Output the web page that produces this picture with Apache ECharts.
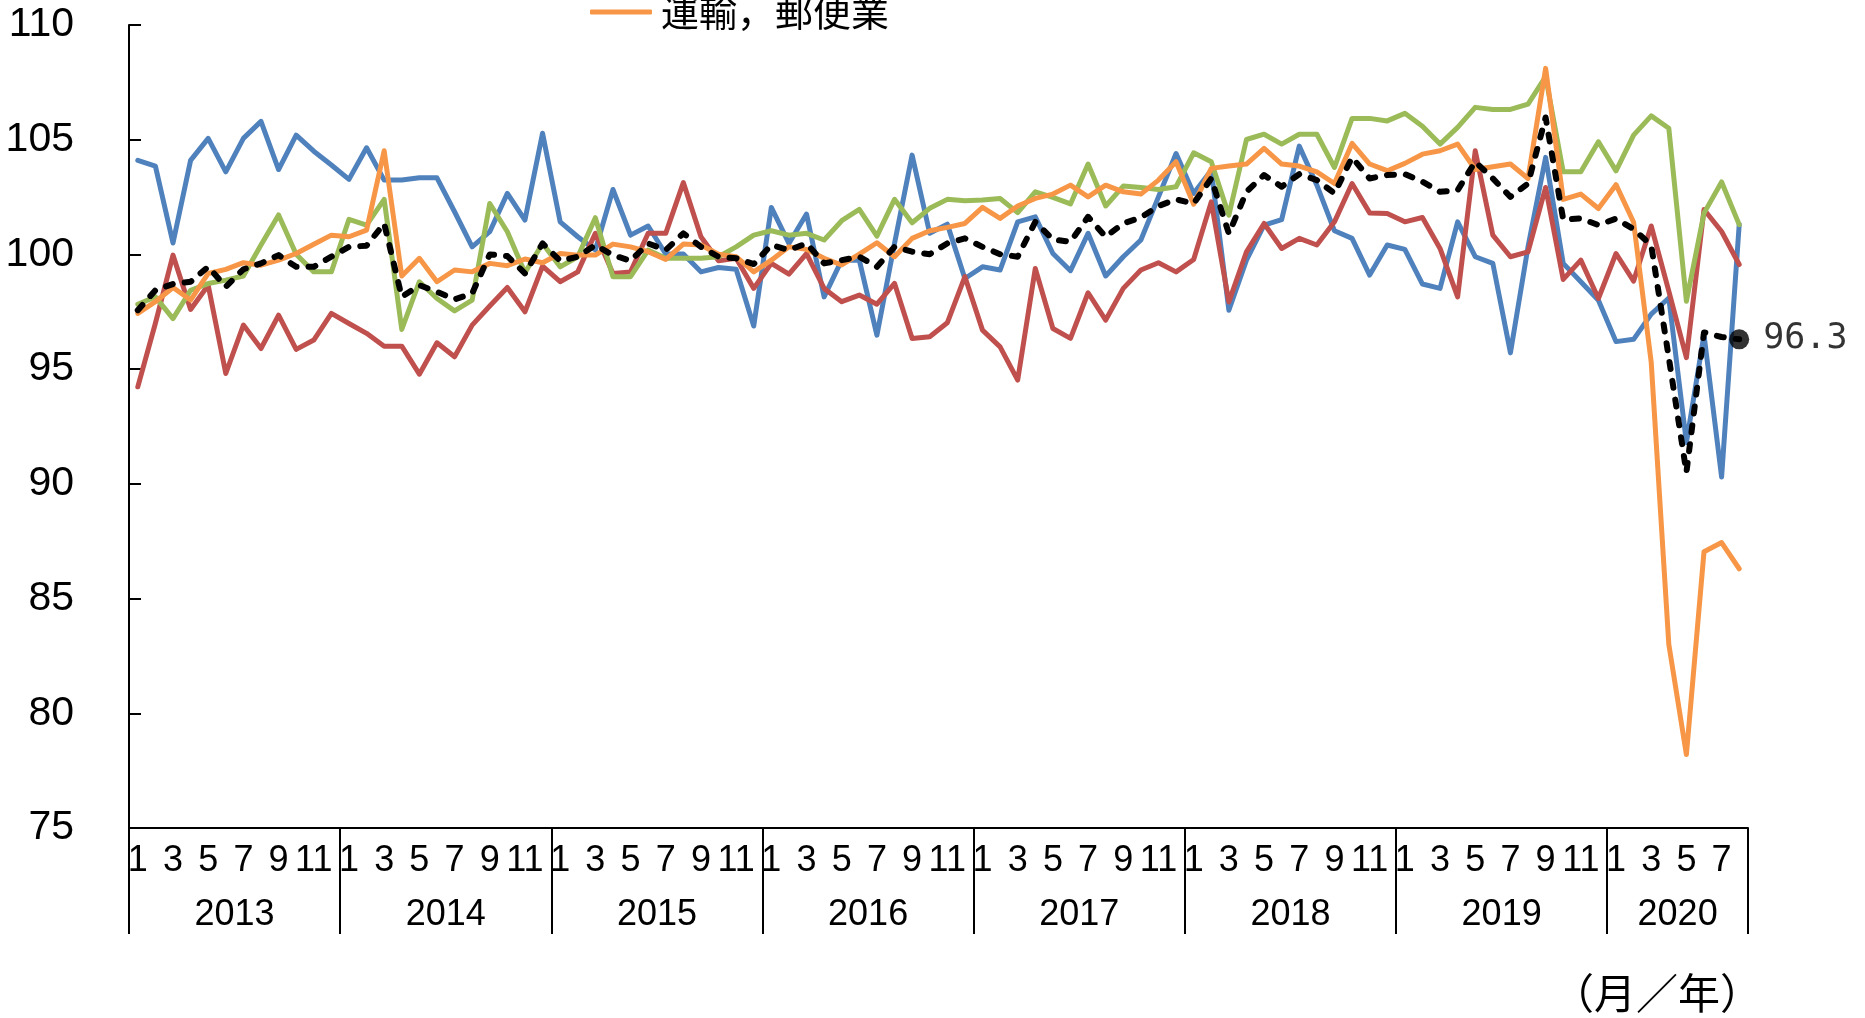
<!DOCTYPE html>
<html>
<head>
<meta charset="utf-8">
<script src="https://cdn.jsdelivr.net/npm/echarts@6/dist/echarts.min.js"></script>
<style>
html,body{margin:0;padding:0;background:#fff;}
#chart{width:1865px;height:1018px;}
</style>
</head>
<body>
<div id="chart"></div>
<script>
// ---- Data ----
const yearLabels = ['2013','2014','2015','2016','2017','2018','2019','2020'];
const monthsInYear = [12,12,12,12,12,12,12,8];
const yTicks = {min: 75, max: 110, step: 5};
const lastLabelText = '96.3';

const blue = [
 104.1,103.85,100.5,104.1,105.06,103.6,105.06,105.8,103.7,105.2,104.5,103.9,
 103.27,104.65,103.24,103.24,103.34,103.34,101.86,100.33,100.99,102.66,101.5,105.28,
 101.42,100.77,100.19,102.83,100.84,101.24,100.02,100.02,99.24,99.43,99.35,96.88,
 102.05,100.48,101.76,98.15,99.75,99.75,96.48,100.48,104.33,100.92,101.32,98.95,
 99.46,99.32,101.42,101.64,100.04,99.29,100.92,99.06,99.9,100.63,102.51,104.4,
 102.66,103.67,97.57,99.75,101.28,101.52,104.72,103.02,101.03,100.7,99.1,100.41,
 100.22,98.71,98.52,101.42,99.9,99.61,95.71,100.33,104.23,99.61,98.81,98.0,
 96.2,96.3,97.4,98.1,91.8,96.5,90.3,101.3
];
const red = [
 94.23,97.0,99.97,97.6,98.66,94.81,96.92,95.9,97.35,95.86,96.27,97.43,
 96.99,96.56,96.0,96.0,94.78,96.15,95.54,96.92,97.75,98.56,97.5,99.49,
 98.81,99.24,100.92,99.17,99.24,100.92,100.92,103.13,100.77,99.72,99.83,98.52,
 99.61,99.14,100.04,98.52,97.94,98.23,97.83,98.74,96.34,96.41,97.02,99.03,
 96.7,95.97,94.52,99.39,96.77,96.34,98.33,97.14,98.52,99.32,99.64,99.24,
 99.78,102.29,97.93,100.11,101.35,100.26,100.7,100.41,101.42,103.09,101.81,101.78,
 101.42,101.61,100.26,98.15,104.52,100.84,99.9,100.11,102.92,98.91,99.75,98.08,
 100.04,98.84,101.24,98.4,95.5,101.96,101.0,99.56
];
const green = [
 97.83,98.15,97.2,98.44,98.73,98.88,99.06,100.41,101.72,100.01,99.24,99.24,
 101.53,101.28,102.4,96.73,98.81,98.08,97.54,98.01,102.22,100.99,99.2,100.48,
 99.46,99.9,101.6,99.03,99.03,100.19,99.83,99.83,99.83,99.9,100.33,100.84,
 101.03,100.84,100.92,100.63,101.47,101.96,100.8,102.4,101.38,102.01,102.4,102.34,
 102.37,102.44,101.82,102.73,102.49,102.2,103.94,102.11,102.98,102.92,102.83,102.95,
 104.43,104.04,101.71,105.01,105.24,104.81,105.24,105.24,103.79,105.93,105.93,105.82,
 106.15,105.59,104.81,105.54,106.41,106.32,106.32,106.55,107.75,103.6,103.6,104.91,
 103.64,105.2,106.04,105.5,97.96,101.8,103.16,101.3
];
const orange = [
 97.43,97.94,98.56,98.01,99.17,99.35,99.64,99.53,99.75,100.04,100.44,100.84,
 100.77,101.06,104.52,99.06,99.83,98.81,99.32,99.24,99.61,99.51,99.8,99.64,
 100.04,99.97,99.97,100.45,100.33,100.12,99.78,100.45,100.41,100.01,99.9,99.24,
 99.75,100.33,100.22,99.83,99.54,100.01,100.51,99.9,100.7,101.03,101.18,101.35,
 102.05,101.57,102.11,102.44,102.63,103.02,102.51,103.02,102.73,102.63,103.24,104.04,
 102.19,103.75,103.85,103.94,104.62,103.94,103.85,103.6,103.09,104.84,103.94,103.65,
 103.97,104.37,104.52,104.81,103.7,103.82,103.94,103.31,108.11,102.4,102.63,102.0,
 103.04,101.4,95.3,83.0,78.2,87.04,87.44,86.3
];
const total = [
 97.57,98.44,98.71,98.81,99.46,98.59,99.35,99.61,99.97,99.46,99.46,99.9,
 100.33,100.38,101.35,98.15,98.66,98.37,98.04,98.3,100.0,99.93,99.17,100.48,
 99.72,99.9,100.41,99.97,99.72,100.48,100.19,100.92,100.33,99.9,99.83,99.58,
 100.41,100.19,100.48,99.61,99.75,99.9,99.46,100.33,100.12,100.01,100.48,100.7,
 100.33,100.01,99.9,101.42,100.65,100.55,101.64,100.77,101.35,101.61,102.11,102.4,
 102.22,103.31,100.91,102.73,103.46,102.95,103.5,103.24,102.66,104.23,103.31,103.46,
 103.5,103.17,102.73,102.8,104.04,103.31,102.51,103.09,105.97,101.52,101.57,101.28,
 101.56,101.1,100.4,95.5,90.5,96.6,96.4,96.3
];

const seriesNames = ['系列1','系列2','系列3','運輸，郵便業','第3次産業総合'];
const legendItems = ['運輸，郵便業'];
const xUnitLabel = '（月／年）';

// ---- Derived category structure ----
const categories = [];
const yearStart = [];
let acc = 0;
yearLabels.forEach((y, k) => {
  yearStart.push(acc);
  for (let m = 1; m <= monthsInYear[k]; m++) categories.push(y + '/' + m);
  acc += monthsInYear[k];
});
const nCat = categories.length;
const yearBounds = yearStart.concat([nCat]);
const yearCenters = yearStart.map((s, k) => s + monthsInYear[k] / 2);

const narrow = '"Liberation Sans Narrow", "Liberation Sans", sans-serif';
const jp = '"Noto Sans CJK JP", sans-serif';

const chart = echarts.init(document.getElementById('chart'), null, {renderer: 'canvas'});
const lastIdx = nCat - 1;

function lineSeries(name, data, color, extra) {
  return Object.assign({
    name: name, type: 'line', data: data, xAxisIndex: 0, yAxisIndex: 0,
    symbol: 'none', smooth: false, animation: false,
    lineStyle: {color: color, width: 5, cap: 'round', join: 'round'},
    itemStyle: {color: color}
  }, extra || {});
}

chart.setOption({
  backgroundColor: '#fff',
  animation: false,
  grid: {left: 129, right: 117, top: 25, bottom: 190, containLabel: false},
  legend: {
    data: legendItems.map(n => ({name: n, icon: 'roundRect'})),
    left: 585, top: -12, itemWidth: 62, itemHeight: 5, itemGap: 10,
    textStyle: {fontFamily: jp, fontSize: 38, color: '#000', padding: [0, 0, 0, 4]}
  },
  xAxis: [
    {
      type: 'category', data: categories, boundaryGap: true, position: 'bottom',
      axisLine: {show: true, lineStyle: {color: '#000', width: 2}},
      axisTick: {show: false},
      axisLabel: {
        interval: 1, margin: 15, color: '#000', fontFamily: narrow, fontSize: 36,
        formatter: v => v.split('/')[1]
      },
      splitLine: {show: false}
    },
    {
      type: 'value', min: 0, max: nCat, position: 'bottom',
      axisLine: {show: false},
      axisTick: {show: true, customValues: yearBounds, length: 106, inside: false,
                 lineStyle: {color: '#000', width: 2}},
      axisLabel: {
        customValues: yearCenters, margin: 69, color: '#000', fontFamily: narrow, fontSize: 36,
        formatter: v => { const k = yearCenters.indexOf(v); return k >= 0 ? yearLabels[k] : ''; }
      },
      splitLine: {show: false}
    }
  ],
  yAxis: {
    type: 'value', min: yTicks.min, max: yTicks.max, interval: yTicks.step,
    axisLine: {show: true, lineStyle: {color: '#000', width: 2}},
    axisTick: {show: true, inside: true, length: 12, lineStyle: {color: '#000', width: 2}},
    axisLabel: {margin: 55, color: '#000', fontFamily: narrow, fontSize: 41},
    splitLine: {show: false}
  },
  series: [
    lineSeries(seriesNames[0], blue, '#4F81BD'),
    lineSeries(seriesNames[1], red, '#C0504D'),
    lineSeries(seriesNames[2], green, '#9BBB59'),
    lineSeries(seriesNames[3], orange, '#F79646'),
    lineSeries(seriesNames[4], total, '#000000',
      {lineStyle: {color: '#000', width: 6, type: [7, 12], cap: 'round', join: 'round'}}),
    {
      name: 'last', type: 'scatter', xAxisIndex: 0, yAxisIndex: 0,
      data: [[categories[lastIdx], total[lastIdx]]],
      symbol: 'circle', symbolSize: 20, itemStyle: {color: '#000'},
      label: {show: true, position: 'right', distance: 14, color: '#000',
              fontFamily: '"DejaVu Sans Mono", "Liberation Mono", monospace', fontSize: 35,
              formatter: () => lastLabelText},
      z: 10
    }
  ],
  graphic: [
    {type: 'text', left: 1552, top: 972,
     style: {text: xUnitLabel, font: '42px "Noto Sans CJK JP", sans-serif', fill: '#000'}}
  ]
});
</script>
</body>
</html>
